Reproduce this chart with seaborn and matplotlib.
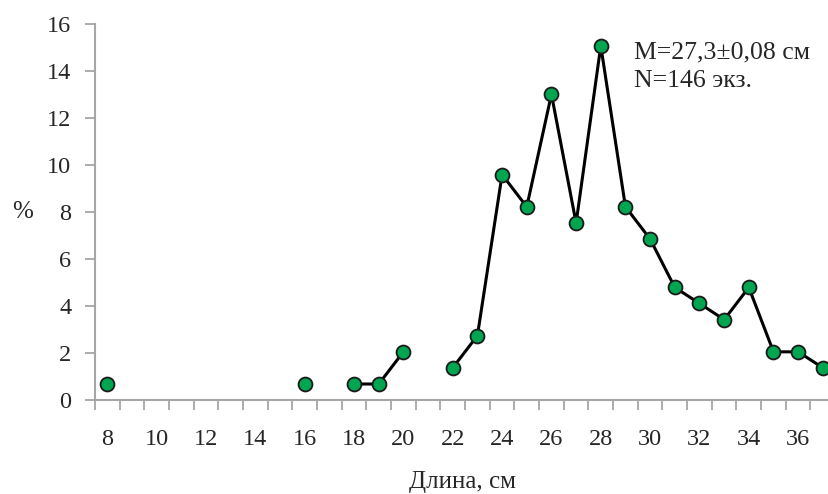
import numpy as np
import pandas as pd
import seaborn as sns
import matplotlib.pyplot as plt
from matplotlib.ticker import FixedLocator

# Length classes (cm) and share of specimens (%); NaN marks empty classes
lengths = list(range(8, 38))
percents = [0.68, np.nan, np.nan, np.nan, np.nan, np.nan, np.nan, np.nan,
            0.68, np.nan, 0.68, 0.68, 2.05, np.nan, 1.37, 2.74, 9.59, 8.22,
            13.01, 7.53, 15.07, 8.22, 6.85, 4.79, 4.11, 3.42, 4.79, 2.05,
            2.05, 1.37]
x_tick_labels = [str(v) for v in range(8, 37, 2)]
y_ticks = list(range(0, 17, 2))
stats_text = "M=27,3±0,08 см\nN=146 экз."

df = pd.DataFrame({"length": lengths, "pct": percents})
# consecutive non-empty classes form one connected segment
df["segment"] = df["pct"].isna().cumsum()
df = df.dropna()

sns.set_theme(style="white")
plt.rcParams["font.family"] = ["Liberation Serif", "DejaVu Serif"]

fig = plt.figure(figsize=(8.29, 4.94), dpi=100)
ax = fig.add_axes([0.1146, 0.1903, 0.8854, 0.7611])

sns.lineplot(data=df, x="length", y="pct", units="segment", estimator=None,
             color="black", linewidth=2.2, marker="o", markersize=10,
             markerfacecolor="#00a550", markeredgecolor="#1a1a1a",
             markeredgewidth=1.3, ax=ax, clip_on=False, zorder=3)

ax.set_xlim(7.5, 37.25)
ax.set_ylim(0, 16)

ax.xaxis.set_major_locator(FixedLocator(list(range(8, 37, 2))))
ax.set_xticklabels(x_tick_labels)
ax.xaxis.set_minor_locator(FixedLocator([v + 0.5 for v in range(7, 38)]))
ax.tick_params(axis="x", which="major", length=0, pad=21, labelsize=17.5)
ax.tick_params(axis="x", which="minor", length=7, width=1.3, color="#a6a6a6",
               direction="out", bottom=True)
ax.set_yticks(y_ticks)
ax.tick_params(axis="y", which="major", length=7, width=1.3, color="#a6a6a6",
               direction="out", left=True, pad=10, labelsize=17.5)

for side in ("top", "right"):
    ax.spines[side].set_visible(False)
for side in ("left", "bottom"):
    ax.spines[side].set_color("#a6a6a6")
    ax.spines[side].set_linewidth(1.5)

ax.set_xlabel("Длина, см", fontsize=18, labelpad=15)
ax.set_ylabel("%", fontsize=18, rotation=0, va="center", ha="center")
ax.yaxis.set_label_coords(-0.099, 0.5)
ax.grid(False)

ax.text(29.35, 15.25, stats_text, fontsize=18.5, va="top", ha="left",
        linespacing=1.4)

fig.savefig("out.png", dpi=100)
